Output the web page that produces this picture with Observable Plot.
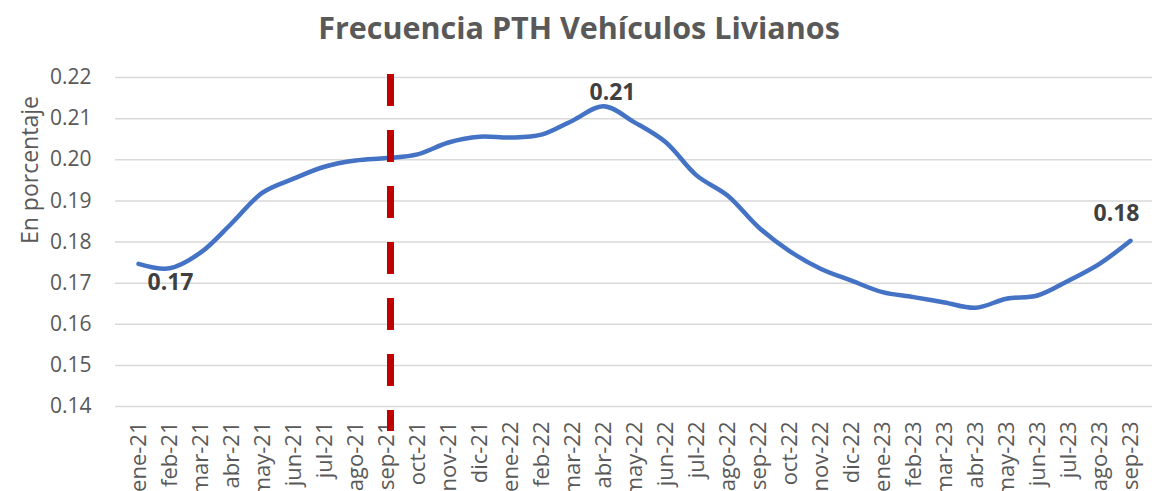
<!DOCTYPE html>
<html><head><meta charset="utf-8">
<script src="https://cdn.jsdelivr.net/npm/d3@7"></script>
<script src="https://cdn.jsdelivr.net/npm/@observablehq/plot@0.6"></script>
<style>
body{margin:0;background:#fff;font-family:"Open Sans",sans-serif;}
#title{height:55px;line-height:54px;text-align:center;font-weight:bold;font-size:30.5px;color:#595959;padding-left:6px;}
</style></head><body>
<div id="title">Frecuencia PTH Vehículos Livianos</div>
<div id="chart"></div>
<script>
const months = ["ene-21","feb-21","mar-21","abr-21","may-21","jun-21","jul-21","ago-21","sep-21","oct-21","nov-21","dic-21",
  "ene-22","feb-22","mar-22","abr-22","may-22","jun-22","jul-22","ago-22","sep-22","oct-22","nov-22","dic-22",
  "ene-23","feb-23","mar-23","abr-23","may-23","jun-23","jul-23","ago-23","sep-23"];
const values = [0.1747,0.1736,0.1774,0.1845,0.1920,0.1954,0.1983,0.1998,0.2004,0.2013,0.2042,0.2056,
  0.2054,0.2061,0.2095,0.2130,0.2091,0.2043,0.1962,0.1913,0.1836,0.1778,0.1735,0.1706,
  0.1678,0.1666,0.1653,0.1640,0.1662,0.1670,0.1706,0.1747,0.1803];
const yTicks = [0.14,0.15,0.16,0.17,0.18,0.19,0.20,0.21,0.22];
const markerMonth = "sep-21";
const labelMonths = ["feb-21","abr-22","sep-23"];

const data = months.map((m,i)=>({month:m, value:values[i]}));
const fmt = d3.format(".2f");
const lab = m => data.filter(d => d.month === m);

const chart = Plot.plot({
  width:1152, height:436,
  marginTop:22, marginBottom:85, marginLeft:115, marginRight:0,
  style:{fontFamily:"Open Sans", fontSize:"20px", color:"#595959", background:"#fff", overflow:"visible"},
  x:{type:"point", domain:months, padding:0.5},
  y:{domain:[0.14,0.22]},
  marks:[
    Plot.gridY(yTicks, {stroke:"#d9d9d9", strokeOpacity:1, strokeWidth:1.5}),
    Plot.axisY(yTicks, {tickSize:0, tickPadding:24, tickFormat:fmt, fontSize:21, label:null}),
    Plot.axisX({tickRotate:-90, tickSize:0, tickPadding:15, fontSize:22, label:null}),
    Plot.text(["En porcentaje"], {frameAnchor:"left", rotate:-90, dx:-85, dy:2, fontSize:23, fill:"#595959"}),
    Plot.line(data, {x:"month", y:"value", stroke:"#4472C4", strokeWidth:4.5, curve:"catmull-rom", strokeLinecap:"round"}),
    Plot.ruleX([markerMonth], {y1:0.2207, y2:0.1339, stroke:"#C00000", strokeWidth:7, strokeDasharray:"32,24", dx:4}),
    Plot.text(lab(labelMonths[0]), {x:"month", y:"value", text:d=>fmt(d.value), dx:1, dy:14, fontWeight:"bold", fontSize:23, fill:"#404040"}),
    Plot.text(lab(labelMonths[1]), {x:"month", y:"value", text:d=>fmt(d.value), dx:9, dy:-14, fontWeight:"bold", fontSize:23, fill:"#404040"}),
    Plot.text(lab(labelMonths[2]), {x:"month", y:"value", text:d=>fmt(d.value), dx:-14, dy:-27, fontWeight:"bold", fontSize:23, fill:"#404040"})
  ]
});
document.getElementById("chart").append(chart);
</script>
</body></html>
